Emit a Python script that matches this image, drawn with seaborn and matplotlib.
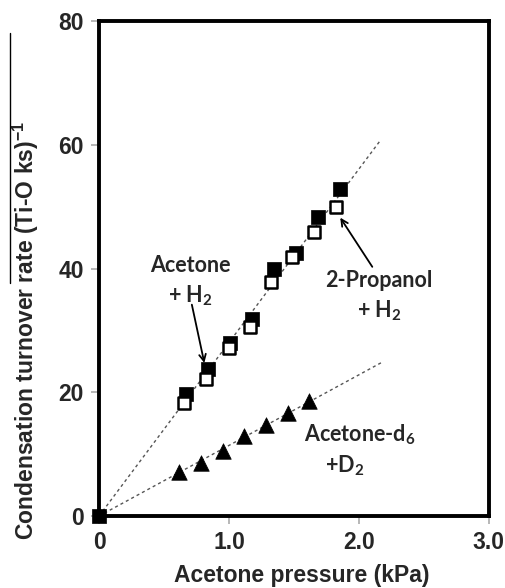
import numpy as np
import pandas as pd
import matplotlib
matplotlib.use("Agg")
import matplotlib.pyplot as plt
import seaborn as sns

# Data
acetone_x = [0.0, 0.668, 0.835, 1.01, 1.18, 1.344, 1.516, 1.686, 1.853]
acetone_y = [0.0, 19.8, 23.8, 27.9, 31.9, 39.9, 42.5, 48.4, 52.9]
propanol_x = [0.655, 0.822, 1.0, 1.164, 1.323, 1.488, 1.652, 1.827]
propanol_y = [18.3, 22.2, 27.1, 30.5, 37.9, 41.8, 45.9, 50.0]
d6_x = [0.617, 0.786, 0.953, 1.118, 1.288, 1.452, 1.614]
d6_y = [7.15, 8.5, 10.5, 12.9, 14.7, 16.7, 18.6]
fit_x_end = 2.17

x_ticks = [0, 1.0, 2.0, 3.0]
x_tick_labels = ["0", "1.0", "2.0", "3.0"]
y_ticks = [0, 20, 40, 60, 80]

sns.set_style("white")
plt.rcParams["font.family"] = ["Liberation Sans", "DejaVu Sans"]

fig = plt.figure(figsize=(5.06, 5.88), dpi=100)
ax = fig.add_axes([0.1957, 0.1224, 0.7703, 0.8418])

# fitted lines through origin
def slope(xs, ys):
    xs = np.asarray(xs); ys = np.asarray(ys)
    return float((xs * ys).sum() / (xs * xs).sum())

s_h = slope(acetone_x + propanol_x, acetone_y + propanol_y)
s_d = slope(d6_x, d6_y)
fit_df = pd.DataFrame({"x": [0, fit_x_end, 0, fit_x_end],
                       "y": [0, s_h * fit_x_end, 0, s_d * fit_x_end],
                       "g": ["h", "h", "d", "d"]})
for g in ["h", "d"]:
    sub = fit_df[fit_df.g == g]
    sns.lineplot(data=sub, x="x", y="y", ax=ax, color="#555555", lw=1.0,
                 linestyle=(0, (2.2, 2.2)), zorder=1)

df_a = pd.DataFrame({"x": acetone_x, "y": acetone_y})
df_p = pd.DataFrame({"x": propanol_x, "y": propanol_y})
df_d = pd.DataFrame({"x": d6_x, "y": d6_y})

sns.scatterplot(data=df_a, x="x", y="y", ax=ax, marker="s", s=95,
                color="black", edgecolor="black", linewidth=0.5, zorder=3, clip_on=False)
sns.scatterplot(data=df_p, x="x", y="y", ax=ax, marker="s", s=85,
                color="white", edgecolor="black", linewidth=1.8, zorder=4)
sns.scatterplot(data=df_d, x="x", y="y", ax=ax, marker="^", s=125,
                color="black", edgecolor="black", linewidth=0.5, zorder=3)

ax.set_xlim(0, 3.0)
ax.set_ylim(0, 80)
ax.set_xticks(x_ticks)
ax.set_xticklabels(x_tick_labels)
ax.set_yticks(y_ticks)
for sp in ax.spines.values():
    sp.set_linewidth(2.8)
    sp.set_color("black")
ax.tick_params(axis="both", direction="out", length=6, width=1.2, color="#aaaaaa",
               labelsize=16.5, pad=5, bottom=True, left=True)
for lab in ax.get_xticklabels() + ax.get_yticklabels():
    lab.set_fontweight("bold")
ax.set_xlabel("Acetone pressure (kPa)", fontsize=16.5, fontweight="bold")
ax.xaxis.set_label_coords(0.519, -0.097)
ax.set_ylabel("Condensation turnover rate (Ti-O ks)$^{\\mathregular{-1}}$", fontsize=16.5,
              fontweight="bold")
ax.yaxis.set_label_coords(-0.148, 0.375)

afont = dict(family=["Lato", "DejaVu Sans"], fontweight="bold", fontsize=15.5,
             ha="center", va="center")
ax.text(0.70, 40.5, "Acetone", **afont)
ax.text(0.70, 35.6, "+ H$_\\mathregular{2}$", **afont)
ax.text(2.155, 38.1, "2-Propanol", **afont)
ax.text(2.155, 33.2, "+ H$_\\mathregular{2}$", **afont)
ax.text(2.005, 13.1, "Acetone-d$_\\mathregular{6}$", **afont)
ax.text(1.89, 8.2, "+D$_\\mathregular{2}$", **afont)

arrow = dict(arrowstyle="->", color="black", lw=1.3, mutation_scale=12)
ax.annotate("", xy=(0.815, 24.3), xytext=(0.71, 34.6), arrowprops=arrow)
ax.annotate("", xy=(1.845, 48.6), xytext=(2.115, 39.9), arrowprops=arrow)

# thin line at left margin present in the reference
fig.add_artist(plt.Line2D([10 / 506, 10 / 506], [1 - 33 / 588, 1 - 283 / 588],
                          color="black", lw=1.0))

fig.savefig("out.png", dpi=100, facecolor="white")
